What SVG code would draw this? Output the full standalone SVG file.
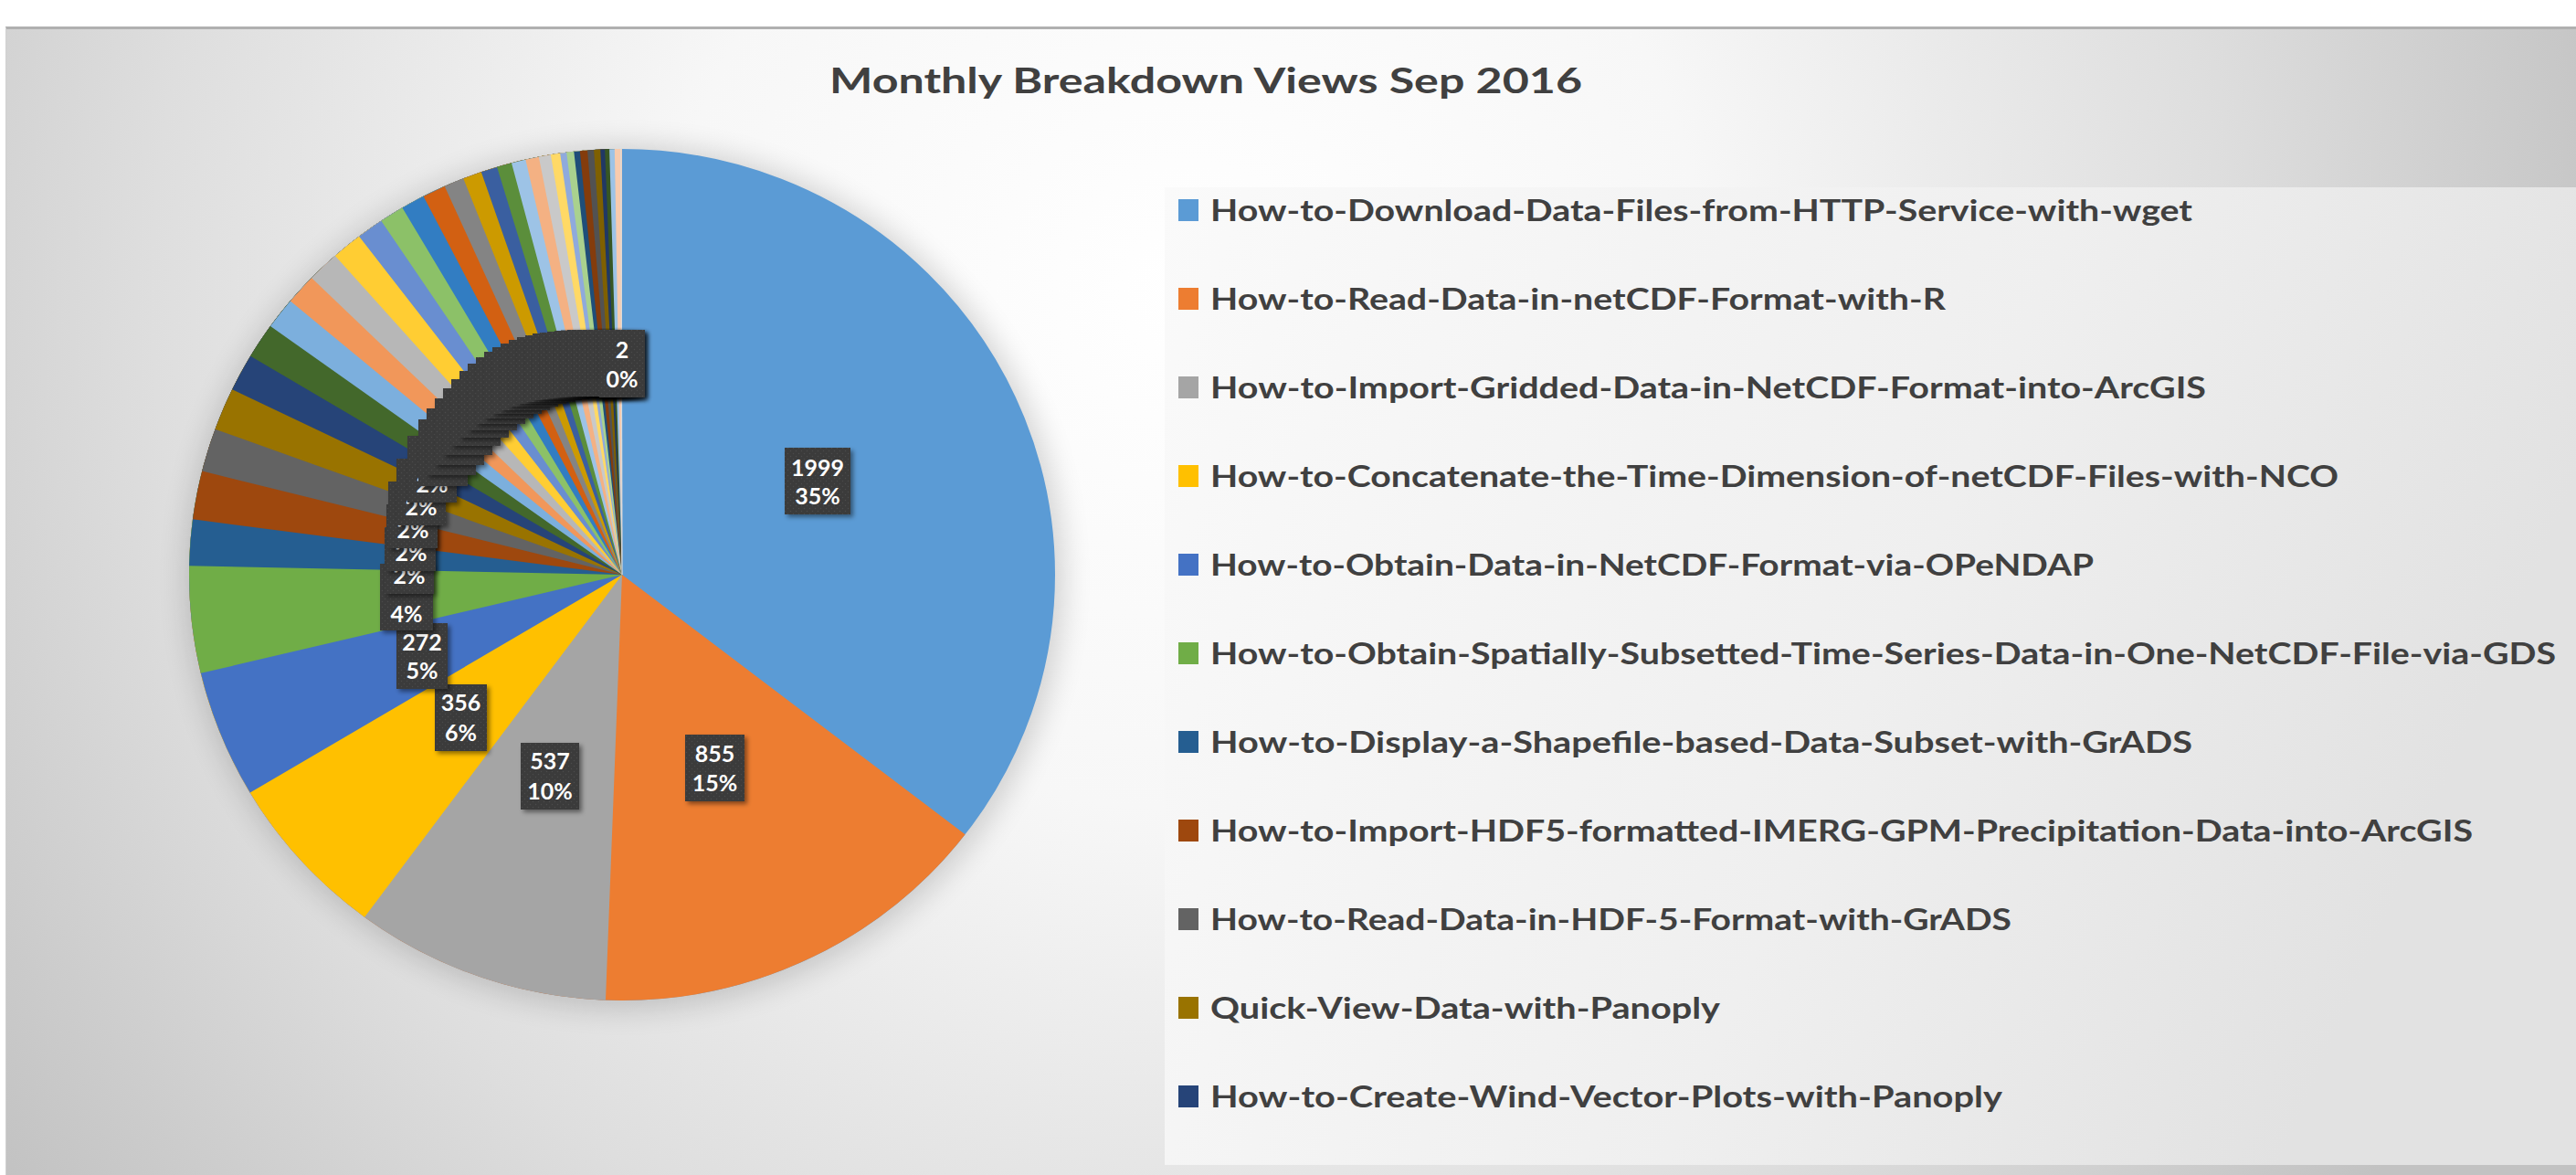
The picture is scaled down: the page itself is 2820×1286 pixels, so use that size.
<svg xmlns="http://www.w3.org/2000/svg" width="2820" height="1286" viewBox="0 0 2820 1286">
<defs>
<radialGradient id="bg" gradientUnits="userSpaceOnUse" cx="1300" cy="320" r="1620">
<stop offset="0" stop-color="#FFFFFF"/>
<stop offset="0.35" stop-color="#F7F7F7"/>
<stop offset="0.7" stop-color="#DEDEDE"/>
<stop offset="1" stop-color="#C2C2C2"/>
</radialGradient>
<linearGradient id="lg" x1="0" y1="0" x2="1" y2="0.3">
<stop offset="0" stop-color="#FAFAFA"/>
<stop offset="0.6" stop-color="#EFEFEF"/>
<stop offset="1" stop-color="#E2E2E2"/>
</linearGradient>
<pattern id="tex" width="6" height="6" patternUnits="userSpaceOnUse">
<rect width="6" height="6" fill="#3A3A3A"/>
<circle cx="1.5" cy="1.5" r="0.8" fill="#4B4B4B"/>
<circle cx="4.5" cy="4.5" r="0.8" fill="#4B4B4B"/>
</pattern>
<filter id="ds" x="-30%" y="-30%" width="160%" height="160%">
<feDropShadow dx="3" dy="3" stdDeviation="2.5" flood-color="#000" flood-opacity="0.45"/>
</filter>
<filter id="soft" x="-20%" y="-20%" width="140%" height="140%">
<feGaussianBlur stdDeviation="16"/>
</filter>
</defs>
<style>
.sl{fill:none;stroke-width:474}
.bx{fill:url(#tex);filter:url(#ds)}
.lt{font-family:Lato,"Liberation Sans",Arial,sans-serif;font-weight:bold;font-size:25px;fill:#FFFFFF;text-anchor:middle}
.lgt{font-family:Lato,"Liberation Sans",Arial,sans-serif;font-weight:bold;font-size:33px;fill:#404040}
.ttl{font-family:Lato,"Liberation Sans",Arial,sans-serif;font-weight:bold;font-size:39px;fill:#404040}
</style>
<rect width="2820" height="1286" fill="#FFFFFF"/>
<g id="chart-area">
<rect x="6" y="30" width="2814" height="1256" fill="url(#bg)"/>
<line x1="6" y1="30.5" x2="2820" y2="30.5" stroke="#B0B0B0" stroke-width="3"/>
<line x1="6.5" y1="30" x2="6.5" y2="1286" stroke="#D0D0D0" stroke-width="1"/>
</g>
<g id="title"><text class="ttl" x="908" y="102" textLength="824" lengthAdjust="spacingAndGlyphs">Monthly Breakdown Views Sep 2016</text></g>
<g id="legend-box"><rect x="1275" y="205" width="1545" height="1070" fill="url(#lg)"/></g>
<g id="pie-shadow"><ellipse cx="684" cy="632" rx="480" ry="472" fill="#000" opacity="0.16" filter="url(#soft)"/></g>
<g id="pie" transform="translate(681 629) scale(1 0.98312) rotate(-90)">
<circle class="sl" r="237" pathLength="360" stroke="#5B9BD5" stroke-dasharray="360 360" stroke-dashoffset="0"/>
<circle class="sl" r="237" pathLength="360" stroke="#ED7D31" stroke-dasharray="232.4 360" stroke-dashoffset="-127.6"/>
<circle class="sl" r="237" pathLength="360" stroke="#A5A5A5" stroke-dasharray="177.8 360" stroke-dashoffset="-182.2"/>
<circle class="sl" r="237" pathLength="360" stroke="#FFC000" stroke-dasharray="143.5 360" stroke-dashoffset="-216.5"/>
<circle class="sl" r="237" pathLength="360" stroke="#4472C4" stroke-dasharray="120.8 360" stroke-dashoffset="-239.2"/>
<circle class="sl" r="237" pathLength="360" stroke="#70AD47" stroke-dasharray="103.4 360" stroke-dashoffset="-256.6"/>
<circle class="sl" r="237" pathLength="360" stroke="#255E91" stroke-dasharray="88.8 360" stroke-dashoffset="-271.2"/>
<circle class="sl" r="237" pathLength="360" stroke="#9E480E" stroke-dasharray="82.5 360" stroke-dashoffset="-277.5"/>
<circle class="sl" r="237" pathLength="360" stroke="#636363" stroke-dasharray="75.9 360" stroke-dashoffset="-284.1"/>
<circle class="sl" r="237" pathLength="360" stroke="#997300" stroke-dasharray="70 360" stroke-dashoffset="-290"/>
<circle class="sl" r="237" pathLength="360" stroke="#264478" stroke-dasharray="64.2 360" stroke-dashoffset="-295.8"/>
<circle class="sl" r="237" pathLength="360" stroke="#43682B" stroke-dasharray="59.1 360" stroke-dashoffset="-300.9"/>
<circle class="sl" r="237" pathLength="360" stroke="#7CAFDD" stroke-dasharray="54.3 360" stroke-dashoffset="-305.7"/>
<circle class="sl" r="237" pathLength="360" stroke="#F1975A" stroke-dasharray="50 360" stroke-dashoffset="-310"/>
<circle class="sl" r="237" pathLength="360" stroke="#B7B7B7" stroke-dasharray="45.8 360" stroke-dashoffset="-314.2"/>
<circle class="sl" r="237" pathLength="360" stroke="#FFCD33" stroke-dasharray="41.5 360" stroke-dashoffset="-318.5"/>
<circle class="sl" r="237" pathLength="360" stroke="#698ED0" stroke-dasharray="37.4 360" stroke-dashoffset="-322.6"/>
<circle class="sl" r="237" pathLength="360" stroke="#8CC168" stroke-dasharray="33.8 360" stroke-dashoffset="-326.2"/>
<circle class="sl" r="237" pathLength="360" stroke="#327DC2" stroke-dasharray="30.5 360" stroke-dashoffset="-329.5"/>
<circle class="sl" r="237" pathLength="360" stroke="#D26012" stroke-dasharray="27.3 360" stroke-dashoffset="-332.7"/>
<circle class="sl" r="237" pathLength="360" stroke="#848484" stroke-dasharray="24.2 360" stroke-dashoffset="-335.8"/>
<circle class="sl" r="237" pathLength="360" stroke="#CC9A00" stroke-dasharray="21.5 360" stroke-dashoffset="-338.5"/>
<circle class="sl" r="237" pathLength="360" stroke="#3A5FA0" stroke-dasharray="19 360" stroke-dashoffset="-341"/>
<circle class="sl" r="237" pathLength="360" stroke="#5B8E3B" stroke-dasharray="16.8 360" stroke-dashoffset="-343.2"/>
<circle class="sl" r="237" pathLength="360" stroke="#9DC3E6" stroke-dasharray="14.8 360" stroke-dashoffset="-345.2"/>
<circle class="sl" r="237" pathLength="360" stroke="#F4B183" stroke-dasharray="12.9 360" stroke-dashoffset="-347.1"/>
<circle class="sl" r="237" pathLength="360" stroke="#C9C9C9" stroke-dasharray="11.1 360" stroke-dashoffset="-348.9"/>
<circle class="sl" r="237" pathLength="360" stroke="#FFD966" stroke-dasharray="9.5 360" stroke-dashoffset="-350.5"/>
<circle class="sl" r="237" pathLength="360" stroke="#8FAADC" stroke-dasharray="8.25 360" stroke-dashoffset="-351.75"/>
<circle class="sl" r="237" pathLength="360" stroke="#A9D18E" stroke-dasharray="7.4 360" stroke-dashoffset="-352.6"/>
<circle class="sl" r="237" pathLength="360" stroke="#1F4E79" stroke-dasharray="6.4 360" stroke-dashoffset="-353.6"/>
<circle class="sl" r="237" pathLength="360" stroke="#843C0C" stroke-dasharray="5.6 360" stroke-dashoffset="-354.4"/>
<circle class="sl" r="237" pathLength="360" stroke="#525252" stroke-dasharray="4.6 360" stroke-dashoffset="-355.4"/>
<circle class="sl" r="237" pathLength="360" stroke="#7F6000" stroke-dasharray="3.75 360" stroke-dashoffset="-356.25"/>
<circle class="sl" r="237" pathLength="360" stroke="#203864" stroke-dasharray="2.9 360" stroke-dashoffset="-357.1"/>
<circle class="sl" r="237" pathLength="360" stroke="#375623" stroke-dasharray="2.3 360" stroke-dashoffset="-357.7"/>
<circle class="sl" r="237" pathLength="360" stroke="#9DC3E6" stroke-dasharray="1.7 360" stroke-dashoffset="-358.3"/>
<circle class="sl" r="237" pathLength="360" stroke="#F8CBAD" stroke-dasharray="1 360" stroke-dashoffset="-359"/>
<circle class="sl" r="237" pathLength="360" stroke="#DBDBDB" stroke-dasharray="0.3 360" stroke-dashoffset="-359.7"/>
</g>
<g id="data-labels">
<g id="lbl-1999"><rect class="bx" x="859" y="490" width="72" height="73"/><text class="lt" x="895" y="520.5">1999</text><text class="lt" x="895" y="551.5">35%</text></g>
<g id="lbl-855"><rect class="bx" x="750" y="804" width="65" height="73"/><text class="lt" x="782.5" y="833.5">855</text><text class="lt" x="782.5" y="865.5">15%</text></g>
<g id="lbl-537"><rect class="bx" x="570" y="813" width="64" height="73"/><text class="lt" x="602" y="842">537</text><text class="lt" x="602" y="875">10%</text></g>
<g id="lbl-356"><rect class="bx" x="476" y="749" width="57" height="73"/><text class="lt" x="504.5" y="778">356</text><text class="lt" x="504.5" y="810.5">6%</text></g>
<g id="lbl-272"><rect class="bx" x="434" y="682" width="56" height="72"/><text class="lt" x="462" y="711.5">272</text><text class="lt" x="462" y="742.5">5%</text></g>
<g id="lbl-4"><rect class="bx" x="416" y="617" width="58" height="73"/><text class="lt" x="445" y="680.5">4%</text></g>
<g id="lbl-stack">
<rect class="bx" x="421" y="577" width="54" height="73"/><text class="lt" x="448" y="638.5">2%</text>
<rect class="bx" x="423" y="552" width="54" height="73"/><text class="lt" x="450" y="613.5">2%</text>
<rect class="bx" x="425" y="527" width="54" height="73"/><text class="lt" x="452" y="588.5">2%</text>
<rect class="bx" x="434" y="502" width="54" height="73"/><text class="lt" x="461" y="563.5">2%</text>
<rect class="bx" x="446" y="477" width="54" height="73"/><text class="lt" x="473" y="538.5">2%</text>
<rect class="bx" x="458" y="459" width="54" height="73"/>
<rect class="bx" x="467" y="447" width="54" height="73"/>
<rect class="bx" x="476" y="436" width="54" height="73"/>
<rect class="bx" x="485" y="425" width="54" height="73"/>
<rect class="bx" x="494" y="415" width="54" height="73"/>
<rect class="bx" x="503" y="406" width="54" height="73"/>
<rect class="bx" x="512" y="398" width="54" height="73"/>
<rect class="bx" x="521" y="391" width="54" height="73"/>
<rect class="bx" x="530" y="385" width="54" height="73"/>
<rect class="bx" x="539" y="380" width="54" height="73"/>
<rect class="bx" x="548" y="376" width="54" height="73"/>
<rect class="bx" x="557" y="372" width="54" height="73"/>
<rect class="bx" x="566" y="369" width="54" height="73"/>
<rect class="bx" x="575" y="367" width="54" height="73"/>
<rect class="bx" x="583" y="365" width="54" height="73"/>
<rect class="bx" x="591" y="364" width="54" height="73"/>
<rect class="bx" x="599" y="363" width="54" height="73"/>
<rect class="bx" x="607" y="362" width="54" height="73"/>
<rect class="bx" x="614" y="361.5" width="54" height="73"/>
<rect class="bx" x="621" y="361" width="54" height="73"/>
<rect class="bx" x="627" y="361" width="54" height="73"/>
<rect class="bx" x="633" y="361" width="54" height="73"/>
<rect class="bx" x="638" y="361" width="54" height="73"/>
<rect class="bx" x="643" y="361" width="54" height="73"/>
<rect class="bx" x="647" y="361" width="54" height="73"/>
<rect class="bx" x="651" y="361" width="54" height="73"/>
<rect class="bx" x="654" y="361" width="52" height="73"/>
</g>
<g id="lbl-2"><rect class="bx" x="656" y="361" width="50" height="74"/><text class="lt" x="681" y="391.5">2</text><text class="lt" x="681" y="423.5">0%</text></g>
</g>
<g id="legend">
<g id="lg1"><rect x="1290" y="218" width="22" height="24" fill="#5B9BD5"/><text class="lgt" x="1325" y="242" textLength="1075" lengthAdjust="spacingAndGlyphs">How-to-Download-Data-Files-from-HTTP-Service-with-wget</text></g>
<g id="lg2"><rect x="1290" y="315" width="22" height="24" fill="#ED7D31"/><text class="lgt" x="1325" y="339" textLength="805" lengthAdjust="spacingAndGlyphs">How-to-Read-Data-in-netCDF-Format-with-R</text></g>
<g id="lg3"><rect x="1290" y="412" width="22" height="24" fill="#A5A5A5"/><text class="lgt" x="1325" y="436" textLength="1090" lengthAdjust="spacingAndGlyphs">How-to-Import-Gridded-Data-in-NetCDF-Format-into-ArcGIS</text></g>
<g id="lg4"><rect x="1290" y="509" width="22" height="24" fill="#FFC000"/><text class="lgt" x="1325" y="533" textLength="1235" lengthAdjust="spacingAndGlyphs">How-to-Concatenate-the-Time-Dimension-of-netCDF-Files-with-NCO</text></g>
<g id="lg5"><rect x="1290" y="606" width="22" height="24" fill="#4472C4"/><text class="lgt" x="1325" y="630" textLength="967" lengthAdjust="spacingAndGlyphs">How-to-Obtain-Data-in-NetCDF-Format-via-OPeNDAP</text></g>
<g id="lg6"><rect x="1290" y="703" width="22" height="24" fill="#70AD47"/><text class="lgt" x="1325" y="727" textLength="1473" lengthAdjust="spacingAndGlyphs">How-to-Obtain-Spatially-Subsetted-Time-Series-Data-in-One-NetCDF-File-via-GDS</text></g>
<g id="lg7"><rect x="1290" y="800" width="22" height="24" fill="#255E91"/><text class="lgt" x="1325" y="824" textLength="1075" lengthAdjust="spacingAndGlyphs">How-to-Display-a-Shapefile-based-Data-Subset-with-GrADS</text></g>
<g id="lg8"><rect x="1290" y="897" width="22" height="24" fill="#9E480E"/><text class="lgt" x="1325" y="921" textLength="1382" lengthAdjust="spacingAndGlyphs">How-to-Import-HDF5-formatted-IMERG-GPM-Precipitation-Data-into-ArcGIS</text></g>
<g id="lg9"><rect x="1290" y="994" width="22" height="24" fill="#636363"/><text class="lgt" x="1325" y="1018" textLength="877" lengthAdjust="spacingAndGlyphs">How-to-Read-Data-in-HDF-5-Format-with-GrADS</text></g>
<g id="lg10"><rect x="1290" y="1091" width="22" height="24" fill="#997300"/><text class="lgt" x="1325" y="1115" textLength="558" lengthAdjust="spacingAndGlyphs">Quick-View-Data-with-Panoply</text></g>
<g id="lg11"><rect x="1290" y="1188" width="22" height="24" fill="#264478"/><text class="lgt" x="1325" y="1212" textLength="867" lengthAdjust="spacingAndGlyphs">How-to-Create-Wind-Vector-Plots-with-Panoply</text></g>
</g>
<g id="connectors"/>
</svg>
